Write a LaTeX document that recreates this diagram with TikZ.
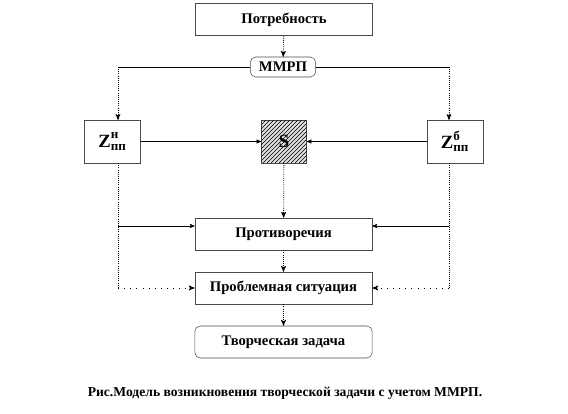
\documentclass[tikz,border=0pt]{standalone}
\usepackage{fontspec}
\setmainfont{Liberation Serif}
\usepackage{tikz}
\usetikzlibrary{arrows,shapes,patterns,positioning}
\tikzstyle{block}=[rectangle,draw=black!70,thin,fill=white,inner sep=0pt,
                   minimum width=133pt,minimum height=24pt]
\tikzstyle{rblock}=[block,rounded corners=4pt]
\tikzstyle{zbox}=[rectangle,draw=black!70,thin,fill=white,inner sep=0pt,
                  minimum width=42pt,minimum height=32pt,font=\fontsize{14}{16}\selectfont\bfseries]
\tikzstyle{sbox}=[zbox,minimum width=34pt,fill=black!12,
                  postaction={pattern=north east lines}]
\tikzstyle{dot}=[densely dotted,semithick]
\tikzstyle{line}=[black,thin]
\newcommand{\zlabel}[1]{Z\rlap{\raisebox{1pt}{\textsuperscript{#1}}}\textsubscript{пп}}

\begin{document}
\begin{tikzpicture}[x=0.75pt,y=-0.75pt,>=stealth',
                    font=\fontsize{11}{13}\selectfont\bfseries]
  \useasboundingbox (0,0) rectangle (568,414);

	\node[block] (need) at (284,19.5) {Потребность};
	\node[rblock,minimum width=49pt,minimum height=15pt] (mmrp) at (283,67) {ММРП};
	\node[zbox] (zl) at (112.5,141.5) {\zlabel{н}};
	\node[sbox] (s) at (284,141.5) {S};
	\node[zbox] (zr) at (455,141.5) {\zlabel{б}};
	\node[block] (contr) at (283.5,234) {Противоречия};
	\node[block] (probl) at (283.5,288) {Проблемная ситуация};
	\node[rblock] (task) at (283.5,342) {Творческая задача};
	\node[font=\fontsize{10.2}{12}\selectfont\bfseries] (caption) at (285,393)
	  {Рис.Модель возникновения творческой задачи с учетом ММРП.};

	\coordinate (lx) at (118,0);
	\coordinate (rx) at (449,0);

  % from the need to the task
  \draw[dot,->] (need) -- (mmrp);
  \draw[dot,->] (s) -- (contr);
  \draw[dot,->] (contr) -- (probl);
  \draw[dot,->] (probl) -- (task);

  % ММРП to both sides
  \draw[line] (mmrp.west) -- (mmrp.west -| lx);
  \draw[line] (mmrp.east) -- (mmrp.east -| rx);
  \draw[dot,->] (mmrp.west -| lx) -- (zl.north -| lx);
  \draw[dot,->] (mmrp.east -| rx) -- (zr.north -| rx);
  \draw[line,->] (zl) -- (s);
  \draw[line,->] (zr) -- (s);

  % side branches
  \draw[dot] (zl.south -| lx) -- (probl.west -| lx);
  \draw[dot] (zr.south -| rx) -- (probl.east -| rx);
  \draw[line,->] ([yshift=6pt]contr.west -| lx) -- ([yshift=6pt]contr.west);
  \draw[line,->] ([yshift=6pt]contr.east -| rx) -- ([yshift=6pt]contr.east);
  \draw[loosely dotted,semithick,->] (probl.west -| lx) -- (probl.west);
  \draw[loosely dotted,semithick,->] (probl.east -| rx) -- (probl.east);

\end{tikzpicture}
\end{document}
